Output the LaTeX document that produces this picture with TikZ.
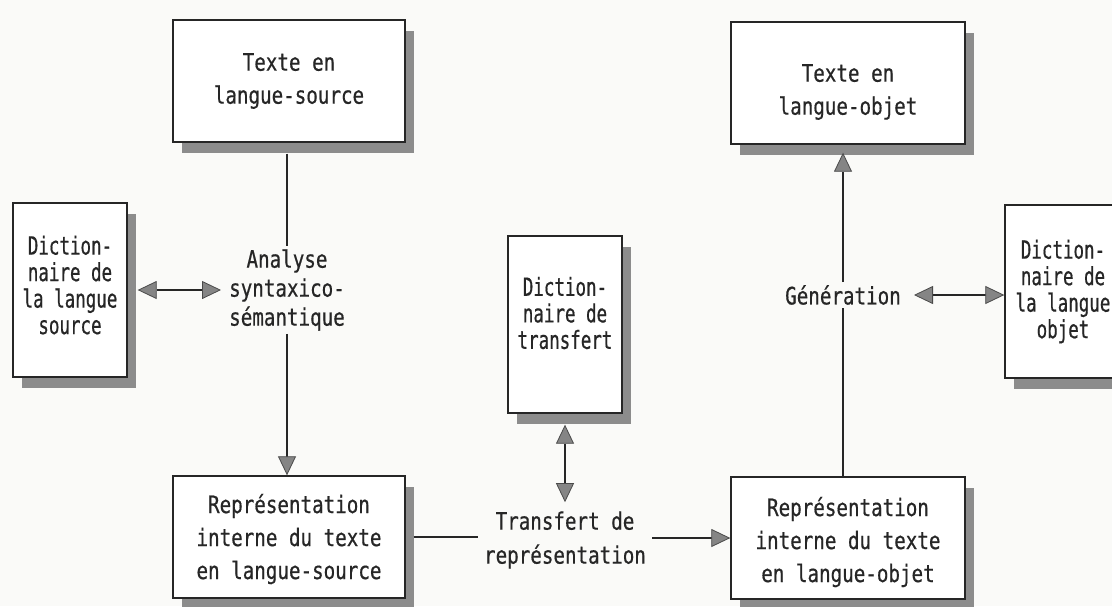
\documentclass[tikz,border=0pt]{standalone}
\usepackage{fontspec}
\newfontfamily\printfont{DejaVu Sans Mono}[FakeStretch=0.8,FakeBold=0.6]
\newfontfamily\dictfont{DejaVu Sans Mono}[FakeStretch=0.7,FakeBold=0.6]
\usetikzlibrary{arrows.meta,shadows,calc}

\definecolor{paper}{HTML}{FAFAF8}
\definecolor{ink}{HTML}{262626}
\definecolor{shade}{HTML}{8C8C8C}
\definecolor{tipfill}{HTML}{858585}
\definecolor{tipline}{HTML}{4A4A4A}

\tikzset{
  x=1pt, y=-1pt,
  box/.style={draw=ink, line width=1.4pt, fill=white, inner sep=0pt,
    drop shadow={shadow xshift=9pt, shadow yshift=-11pt, fill=shade, opacity=1}},
  boxtext/.style={font=\printfont\fontsize{24}{33}\selectfont, align=center,
    text=ink, inner sep=0pt},
  dicttext/.style={font=\dictfont\fontsize{25}{26.5}\selectfont, align=center,
    text=ink, inner sep=0pt},
  steptext/.style={font=\printfont\fontsize{24}{29}\selectfont, align=center,
    text=ink, inner xsep=8pt, inner ysep=3pt},
  bigtip/.tip={Triangle[length=19pt, width=18pt, color=tipline, fill=tipfill, line width=0.8pt]},
  link/.style={draw=ink, line width=1.2pt},
}

\begin{document}
\begin{tikzpicture}
\useasboundingbox (0,0) rectangle (1112,606);
\fill[paper] (0,0) rectangle (1112,606);
\clip (0,0) rectangle (1112,606);

% boxes
\node[box, minimum width=232pt, minimum height=122pt] (src) at (289,81) {};
\node[box, minimum width=234pt, minimum height=122pt] (obj) at (848,83) {};
\node[box, minimum width=114pt, minimum height=174pt] (dls) at (70,290) {};
\node[box, minimum width=114pt, minimum height=177pt] (dt)  at (565,324.5) {};
\node[box, minimum width=116pt, minimum height=173pt] (dlo) at (1063,291.5) {};
\node[box, minimum width=232pt, minimum height=122pt] (rs)  at (289,537) {};
\node[box, minimum width=234pt, minimum height=122pt] (ro)  at (848,538) {};

% box captions
\node[boxtext] (srctxt) at (src.center) {Texte en\\langue-source};
\node[boxtext] (objtxt) at ($(obj.center)+(0,9)$) {Texte en\\langue-objet};
\node[dicttext] (dlstxt) at ($(dls.center)+(0,-5)$) {Diction-\\naire de\\la langue\\source};
\node[dicttext] (dttxt) at ($(dt.center)+(0,-11.5)$) {Diction-\\naire de\\transfert};
\node[dicttext] (dlotxt) at (dlo.center) {Diction-\\naire de\\la langue\\objet};
\node[boxtext] (rstxt) at ($(rs.center)+(0,2)$) {Représentation\\interne du texte\\en langue-source};
\node[boxtext] (rotxt) at ($(ro.center)+(0,4)$) {Représentation\\interne du texte\\en langue-objet};

% processing steps
\node[steptext] (ana) at (287,290) {Analyse\\syntaxico-\\sémantique};
\node[steptext, inner xsep=13pt, inner ysep=3pt] (gen) at (843,295) {Génération};
\node[steptext, font=\printfont\fontsize{24}{34}\selectfont, inner sep=6pt] (trans) at (565,540) {Transfert de\\représentation};

% connectors
\draw[link] ($(ana.north |- src.south)+(0,11)$) -- (ana.north);
\draw[link, -{bigtip}] (ana.south) -- (ana.south |- rs.north);
\draw[link, {bigtip}-{bigtip}] ($(dls.east)+(10,0)$) -- (ana.west |- dls.east);

\draw[link, {bigtip}-{bigtip}] ($(dt.south)+(0,11)$) -- ($(trans.north)+(0,-3)$);
\draw[link] ($(rs.east)+(8,0)$) -- (trans.west |- rs.east);
\draw[link, -{bigtip}] (trans.east |- ro.west) -- (ro.west);

\draw[link] (gen.south |- ro.north) -- (gen.south);
\draw[link, -{bigtip}] (gen.north) -- ($(gen.north |- obj.south)+(0,8)$);
\draw[link, {bigtip}-{bigtip}] (gen.east) -- (dlo.west |- gen.east);
\end{tikzpicture}
\end{document}
